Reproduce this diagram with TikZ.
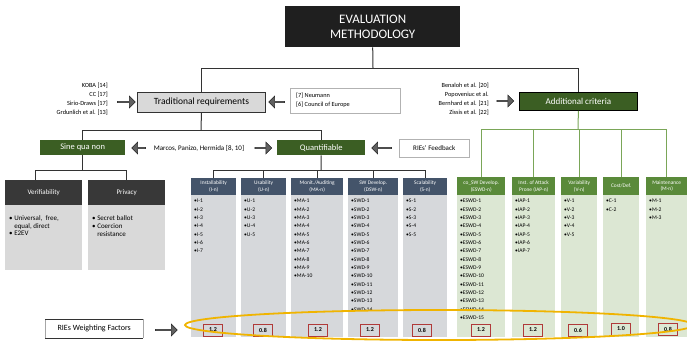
\documentclass[tikz,border=0pt]{standalone}
\usepackage{fontspec}
\setmainfont{Carlito}
\usetikzlibrary{shapes.arrows}
\definecolor{dgreen}{HTML}{3B5E23}
\definecolor{mgreen}{HTML}{5A8A3A}
\definecolor{lgreen}{HTML}{DCE7D3}
\definecolor{slate}{HTML}{44546A}
\definecolor{lgray}{HTML}{D9D9D9}
\definecolor{cgray}{HTML}{D6D8DB}
\definecolor{gline}{HTML}{7AA658}
\definecolor{wred}{HTML}{B03A3A}
\definecolor{gold}{HTML}{F0B400}
\definecolor{tline}{HTML}{333333}
\begin{document}
\begin{tikzpicture}[x=1pt,y=-1pt,
  box/.style={rectangle, inner sep=0pt, anchor=north west, align=center},
  greenbox/.style={box, fill=dgreen, text=white, font=\fontsize{8.5}{10}\selectfont},
  colhead/.style={box, fill=slate, text=white, font=\fontsize{5.4}{6.6}\selectfont},
  gcolhead/.style={box, fill=mgreen, text=white, font=\fontsize{5.4}{6.6}\selectfont},
  colbody/.style={box, fill=cgray},
  gcolbody/.style={box, fill=lgreen},
  items/.style={inner sep=0pt, anchor=north west, align=left, font=\fontsize{5.6}{8.33}\selectfont},
  wbox/.style={rectangle, draw=wred, line width=0.9pt, minimum width=19pt, minimum height=12pt, inner sep=0pt, font=\bfseries\fontsize{6}{7}\selectfont},
  tree/.style={draw=tline, line width=1pt},
  gtree/.style={draw=gline, line width=1pt},
  blockarrow/.style={single arrow, draw=black!85, fill=black!62, line width=0.5pt, minimum width=12pt, single arrow head extend=2.5pt, single arrow head indent=0pt, inner sep=0pt},
  refs/.style={inner sep=0pt, align=right, font=\fontsize{6.3}{9}\selectfont}
]
\useasboundingbox (0,0) rectangle (687,341);

% top
\node[box, fill=black!88, text=white, minimum width=175pt, minimum height=41pt, font=\fontsize{13}{15}\selectfont] (eval) at (285,6) {EVALUATION\\METHODOLOGY};
\node[box, fill=lgray, draw=tline, line width=0.9pt, minimum width=128pt, minimum height=20pt, font=\fontsize{9.5}{11}\selectfont] (trad) at (137,92) {Traditional requirements};
\node[box, fill=white, draw=black!30, minimum width=110pt, minimum height=25pt] (neu) at (290,88) {};
\node[refs, align=left, anchor=west] (neutext) at ([xshift=6pt]neu.west) {[7] Neumann\\{}[6] Council of Europe};
\node[greenbox, draw=black, line width=0.8pt, minimum width=118pt, minimum height=18pt, font=\fontsize{9}{11}\selectfont] (add) at (519,92) {Additional criteria};
\node[refs, anchor=east] (refL) at (108,99.5) {KOBA [14]\\CC [17]\\Sirio-Draws [17]\\Grdunlich et al. [13]};
\node[refs, anchor=east] (refR) at (489,99) {Benaloh et al. [20]\\Popoveniuc et al.\\Bernhard et al. [21]\\Zissis et al. [22]};

\node[blockarrow, minimum height=18pt] (a1) at (126,102) {};
\node[blockarrow, minimum height=16pt, shape border rotate=180] (a2) at (277,102) {};
\node[blockarrow, minimum height=17pt] (a3) at (505,101) {};

% second level
\node[greenbox, minimum width=85pt, minimum height=15pt] (sine) at (40,140) {Sine qua non};
\node[greenbox, minimum width=88pt, minimum height=15pt] (quant) at (277,140) {Quantifiable};
\node[inner sep=0pt, font=\fontsize{7}{8}\selectfont] (marcos) at (199,148) {Marcos, Panizo, Hermida [8, 10]};
\node[blockarrow, minimum height=14pt, shape border rotate=180] (a4) at (139,148) {};
\node[blockarrow, minimum height=17pt] (a5) at (263,148) {};
\node[blockarrow, minimum height=20pt, shape border rotate=180] (a6) at (382,148) {};
\node[box, fill=white, draw=black!30, minimum width=70pt, minimum height=18pt, font=\fontsize{7}{8}\selectfont] (fb) at (399,139) {RIEs' Feedback};

% tree lines top
\coordinate (tbar) at (373,68);
\draw[tree] (eval.south) -- (tbar);
\draw[tree] (trad.north) |- (add.north |- tbar) -- (add.north);
\coordinate (sbar) at (201,130);
\draw[tree] (trad.south) -- (sbar);
\draw[tree] (sine.north) |- (quant.north |- sbar) -- (quant.north);

% sine qua non
\node[box, fill=black!78, text=white, minimum width=77pt, minimum height=25pt, font=\fontsize{7}{8}\selectfont] (vh) at (5,180) {Verifiability};
\node[box, fill=lgray, minimum width=77pt, minimum height=65pt] (vb) at (5,205) {};
\node[items, font=\fontsize{7}{7.7}\selectfont] (vt) at (9,215.5) {\textbullet\ Universal,\ \ free,\\\phantom{\textbullet\ }equal, direct\\\textbullet\ E2EV};
\node[box, fill=black!78, text=white, minimum width=77pt, minimum height=25pt, font=\fontsize{7}{8}\selectfont] (prh) at (88,180) {Privacy};
\node[box, fill=lgray, minimum width=77pt, minimum height=65pt] (prb) at (88,205) {};
\node[items, font=\fontsize{7}{8.2}\selectfont] (pt) at (92,215.5) {\textbullet\ Secret ballot\\\textbullet\ Coercion\\\phantom{\textbullet\ }resistance};
\coordinate (qsbar) at (82,170);
\draw[tree] (sine.south) -- (sine.south |- qsbar);
\draw[tree] ([xshift=-8pt]vh.north) |- (prh.north |- qsbar) -- (prh.north);

% quantifiable columns
\node[colhead, minimum width=45pt, minimum height=17pt] (h1) at (191,178) {Installability\\(I-n)};
\node[colhead, minimum width=45pt, minimum height=17pt] (h2) at (241,178) {Usability\\(U-n)};
\node[colhead, minimum width=52pt, minimum height=17pt] (h3) at (291,178) {Monit./Auditing\\(MA-n)};
\node[colhead, minimum width=50pt, minimum height=17pt] (h4) at (348,178) {SW Develop.\\(DSW-n)};
\node[colhead, minimum width=44pt, minimum height=17pt] (h5) at (403,178) {Scalability\\(S-n)};
\node[colbody, minimum width=45pt, minimum height=142pt] (b1) at (191,195) {};
\node[colbody, minimum width=45pt, minimum height=142pt] (b2) at (241,195) {};
\node[colbody, minimum width=52pt, minimum height=142pt] (b3) at (291,195) {};
\node[colbody, minimum width=50pt, minimum height=142pt] (b4) at (348,195) {};
\node[colbody, minimum width=44pt, minimum height=142pt] (b5) at (403,195) {};

% additional columns
\node[gcolhead, minimum width=48pt, minimum height=18pt] (h6) at (457,177) {co\_SW Develop.\\(ESWD-n)};
\node[gcolhead, minimum width=43pt, minimum height=18pt] (h7) at (512,177) {Inst. of Attack\\Prone (IAP-n)};
\node[gcolhead, minimum width=36pt, minimum height=18pt] (h8) at (561,177) {Variability\\(V-n)};
\node[gcolhead, minimum width=36pt, minimum height=18pt] (h9) at (603,177) {Cost/Def.};
\node[gcolhead, minimum width=41pt, minimum height=18pt] (h10) at (646,177) {Maintenance\\(M-n)};
\node[gcolbody, minimum width=48pt, minimum height=142pt] (b6) at (457,195) {};
\node[gcolbody, minimum width=43pt, minimum height=142pt] (b7) at (512,195) {};
\node[gcolbody, minimum width=36pt, minimum height=142pt] (b8) at (561,195) {};
\node[gcolbody, minimum width=36pt, minimum height=142pt] (b9) at (603,195) {};
\node[gcolbody, minimum width=41pt, minimum height=142pt] (b10) at (646,195) {};

% items
\node[items] (i1) at (194,199) {\textbullet I-1\\\textbullet I-2\\\textbullet I-3\\\textbullet I-4\\\textbullet I-5\\\textbullet I-6\\\textbullet I-7};
\node[items] (i2) at (244,199) {\textbullet U-1\\\textbullet U-2\\\textbullet U-3\\\textbullet U-4\\\textbullet U-5};
\node[items] (i3) at (294,199) {\textbullet MA-1\\\textbullet MA-2\\\textbullet MA-3\\\textbullet MA-4\\\textbullet MA-5\\\textbullet MA-6\\\textbullet MA-7\\\textbullet MA-8\\\textbullet MA-9\\\textbullet MA-10};
\node[items] (i4) at (351,199) {\textbullet SWD-1\\\textbullet SWD-2\\\textbullet SWD-3\\\textbullet SWD-4\\\textbullet SWD-5\\\textbullet SWD-6\\\textbullet SWD-7\\\textbullet SWD-8\\\textbullet SWD-9\\\textbullet SWD-10\\\textbullet SWD-11\\\textbullet SWD-12\\\textbullet SWD-13\\\textbullet SWD-14};
\node[items] (i5) at (406,199) {\textbullet S-1\\\textbullet S-2\\\textbullet S-3\\\textbullet S-4\\\textbullet S-5};
\node[items] (i6) at (460,199) {\textbullet ESWD-1\\\textbullet ESWD-2\\\textbullet ESWD-3\\\textbullet ESWD-4\\\textbullet ESWD-5\\\textbullet ESWD-6\\\textbullet ESWD-7\\\textbullet ESWD-8\\\textbullet ESWD-9\\\textbullet ESWD-10\\\textbullet ESWD-11\\\textbullet ESWD-12\\\textbullet ESWD-13\\\textbullet ESWD-14\\\textbullet ESWD-15};
\node[items] (i7) at (515,199) {\textbullet IAP-1\\\textbullet IAP-2\\\textbullet IAP-3\\\textbullet IAP-4\\\textbullet IAP-5\\\textbullet IAP-6\\\textbullet IAP-7};
\node[items] (i8) at (564,199) {\textbullet V-1\\\textbullet V-2\\\textbullet V-3\\\textbullet V-4\\\textbullet V-5};
\node[items] (i9) at (606,199) {\textbullet C-1\\\textbullet C-2};
\node[items] (i10) at (649,199) {\textbullet M-1\\\textbullet M-2\\\textbullet M-3};

% quantifiable tree
\coordinate (qbar) at (321,170);
\draw[tree] (quant.south) -- (qbar);
\draw[tree] (h1.north) |- (h5.north |- qbar) -- (h5.north);
\foreach \k in {2,3,4} \draw[tree] (h\k.north) -- (h\k.north |- qbar);

% additional tree
\coordinate (abar) at (578,129);
\draw[gtree] (add.south) -- (abar);
\draw[gtree] (h6.north) |- (h10.north |- abar) -- (h10.north);
\foreach \k in {7,8,9} \draw[gtree] (h\k.north) -- (h\k.north |- abar);

% weights
\node[wbox] (w1) at (213,330) {1.2};
\node[wbox] (w2) at (263,330) {0.8};
\node[wbox] (w3) at (318,330) {1.2};
\node[wbox] (w4) at (370,330) {1.2};
\node[wbox] (w5) at (422,330) {0.8};
\node[wbox] (w6) at (481,330) {1.2};
\node[wbox] (w7) at (533,330) {1.2};
\node[wbox] (w8) at (578,330) {0.6};
\node[wbox] (w9) at (621,329) {1.0};
\node[wbox] (w10) at (668,329) {0.8};

\draw[gold, line width=1.8pt] (439,325) ellipse [x radius=254, y radius=15];

\node[box, minimum width=98pt, minimum height=19pt, font=\fontsize{8}{9}\selectfont] (wf) at (45,319) {RIEs Weighting Factors};
\draw[black!35, line width=0.5pt] (wf.north west) -- (wf.south west) (wf.north east) -- (wf.south east);
\draw[tline, line width=1pt] (wf.north west) -- (wf.north east) (wf.south west) -- (wf.south east);
\node[blockarrow, minimum height=22pt] (a7) at (166,330) {};
\end{tikzpicture}
\end{document}
